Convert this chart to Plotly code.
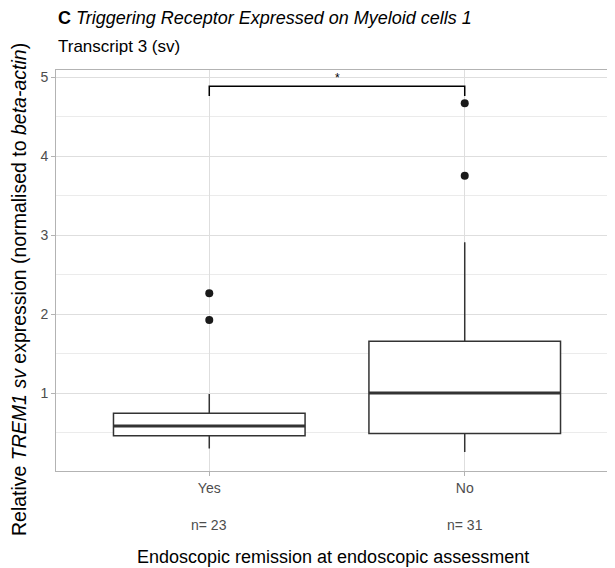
import plotly.graph_objects as go

# ---- data ----
groups = ["Yes", "No"]
group_pos = [1, 2]
n_counts = [23, 31]
q1 = [0.46, 0.49]
medians = [0.585, 1.0]
q3 = [0.745, 1.655]
lower_whisker = [0.30, 0.255]
upper_whisker = [0.99, 2.91]
outliers = {"Yes": [1.925, 2.265], "No": [3.75, 4.67]}
y_ticks = [1, 2, 3, 4, 5]
bracket_top = 4.885
bracket_tip = 4.76
sig_label = "*"
sig_y = 4.99

BOX_W = 0.75
FONT = "Liberation Sans, Arial, Helvetica, sans-serif"
LINE_C = "#333333"

fig = go.Figure()

for g, x, a, m, b, lo, hi in zip(groups, group_pos, q1, medians, q3, lower_whisker, upper_whisker):
    fig.add_trace(go.Box(
        x=[x], q1=[a], median=[m], q3=[b], lowerfence=[lo], upperfence=[hi],
        width=BOX_W, whiskerwidth=0, fillcolor="white",
        line=dict(color=LINE_C, width=1.5), boxpoints=False,
        showlegend=False, hoverinfo="skip"))
    # thicker median line (ggplot style)
    fig.add_trace(go.Scatter(
        x=[x - BOX_W / 2, x + BOX_W / 2], y=[m, m], mode="lines",
        line=dict(color=LINE_C, width=3), showlegend=False, hoverinfo="skip"))
    fig.add_trace(go.Scatter(
        x=[x] * len(outliers[g]), y=outliers[g], mode="markers",
        marker=dict(color="#1a1a1a", size=8), showlegend=False, hoverinfo="skip"))

# significance bracket
fig.add_trace(go.Scatter(
    x=[group_pos[0], group_pos[0], group_pos[1], group_pos[1]],
    y=[bracket_tip, bracket_top, bracket_top, bracket_tip],
    mode="lines", line=dict(color="black", width=1.5),
    showlegend=False, hoverinfo="skip"))
fig.add_annotation(x=(group_pos[0] + group_pos[1]) / 2, y=sig_y, text=sig_label,
                   showarrow=False, font=dict(family=FONT, size=12, color="black"),
                   xref="x", yref="y")

# page is offset by the default 8px body margin; work in page pixels
OFF = 8
W, H = 615, 568
ML, MR, MT, MB = 48, 5, 62, 105
PH = H - MT - MB
PW = W - ML - MR


def py(page_pix):
    return (H - MB - (page_pix - OFF)) / PH


def px(page_pix):
    return ((page_pix - OFF) - ML) / PW


# n labels
for x, n in zip(group_pos, n_counts):
    fig.add_annotation(x=x, xref="x", y=py(525), yref="paper", yanchor="middle",
                       text=f"n= {n}", showarrow=False,
                       font=dict(family=FONT, size=14, color="#4D4D4D"))

# axis titles
fig.add_annotation(x=px(333), xref="paper", y=py(557), yref="paper",
                   yanchor="middle", text="Endoscopic remission at endoscopic assessment",
                   showarrow=False, font=dict(family=FONT, size=18, color="black"))
fig.add_annotation(x=px(19), xref="paper", y=py(290), yref="paper",
                   xanchor="center", yanchor="middle", textangle=-90,
                   text="Relative <i>TREM1 sv</i> expression (normalised to <i>beta-actin</i>)",
                   showarrow=False, font=dict(family=FONT, size=19.5, color="black"))

# title & subtitle
fig.add_annotation(x=px(56), xref="paper", y=py(18), yref="paper",
                   xanchor="left", yanchor="middle",
                   text="<b>C</b> <i>Triggering Receptor Expressed on Myeloid cells 1</i>",
                   showarrow=False, font=dict(family=FONT, size=18, color="black"))
fig.add_annotation(x=px(56), xref="paper", y=py(47), yref="paper",
                   xanchor="left", yanchor="middle", text="Transcript 3 (sv)",
                   showarrow=False, font=dict(family=FONT, size=17, color="black"))

fig.update_layout(
    width=W, height=H,
    margin=dict(l=ML, r=MR, t=MT, b=MB),
    paper_bgcolor="white", plot_bgcolor="white",
    font=dict(family=FONT),
    xaxis=dict(
        range=[0.4, 2.6], tickvals=group_pos, ticktext=groups,
        showgrid=True, gridcolor="#DEDEDE", gridwidth=1, zeroline=False,
        showline=True, linecolor="#B3B3B3", linewidth=1, mirror=True,
        ticks="outside", ticklen=4, tickcolor="#B3B3B3",
        tickfont=dict(family=FONT, size=14, color="#4D4D4D")),
    yaxis=dict(
        range=[0.014, 5.09], tickvals=y_ticks,
        showgrid=True, gridcolor="#DEDEDE", gridwidth=1, zeroline=False,
        showline=True, linecolor="#B3B3B3", linewidth=1,
        ticks="outside", ticklen=4, tickcolor="#B3B3B3",
        tickfont=dict(family=FONT, size=14, color="#4D4D4D"),
        minor=dict(dtick=0.5, tick0=0, showgrid=True, gridcolor="#EBEBEB", gridwidth=0.7)),
)

fig.write_html("out.html")
